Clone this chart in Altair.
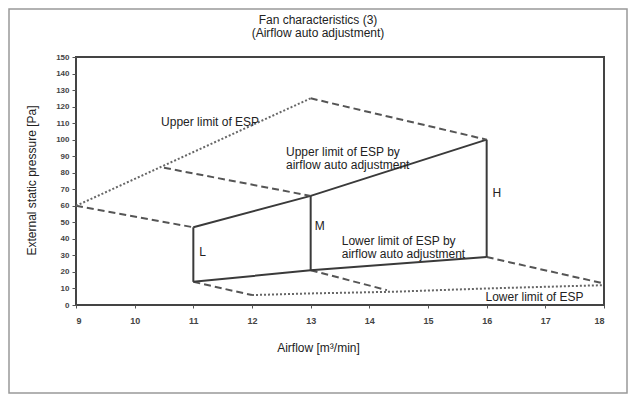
import altair as alt
import pandas as pd

FONT = "Liberation Sans, Arial, sans-serif"

# Chart title lines
title_lines = ["Fan characteristics (3)", "(Airflow auto adjustment)"]

# Fan speeds and the auto-adjustment limits (solid lines)
speed = ["L", "M", "H"]
speed_airflow = [11, 13, 16]
auto_upper = [47, 66, 100]
auto_lower = [14, 21, 29]

# Upper / lower limit of ESP (dotted)
upper_esp_x = [9, 13]
upper_esp_y = [60, 125]
lower_esp_x = [12, 13, 14.4, 16, 18]
lower_esp_y = [6, 7, 8, 10, 12]

# Dashed connectors
dash_x0 = [9, 10.5, 13, 11, 13, 16]
dash_y0 = [60, 83, 125, 14, 21, 29]
dash_x1 = [11, 13, 16, 12, 14.3, 18]
dash_y1 = [47, 66, 100, 6, 9, 13]

# Annotations
labels = ["Upper limit of ESP", "Upper limit of ESP by\nairflow auto adjustment",
          "Lower limit of ESP by\nairflow auto adjustment", "Lower limit of ESP",
          "L", "M", "H"]
label_x = [10.45, 12.58, 13.53, 15.98, 11.1, 13.07, 16.1]
label_y = [110.8, 92.8, 39, 4.8, 32, 48, 68]

x_ticks = list(range(9, 19))
y_ticks = list(range(0, 151, 10))

xs = alt.Scale(domain=[9, 18], nice=False)
ys = alt.Scale(domain=[0, 150], nice=False)

X_AXIS = alt.Axis(values=x_ticks, format="d", title="Airflow [m³/min]", grid=False, domain=False,
                  tickSize=3, tickColor="#555", labelFontSize=9, labelFontWeight="bold",
                  labelColor="#444", labelPadding=8, labelOverlap=False,
                  titleFontSize=12, titleFontWeight="normal",
                  titleFont=FONT, titleColor="#222", titleX=242, titleY=42, titleBaseline="middle",
                  titleAnchor="start", titleAlign="center")
Y_AXIS = alt.Axis(values=y_ticks, format="d", title="External static pressure [Pa]", grid=False,
                  domain=False, tickSize=4, tickColor="#555", labelFontSize=8,
                  labelFontWeight="bold", labelColor="#444", labelPadding=3, labelOverlap=False,
                  titleFontSize=12, titleFontWeight="normal",
                  titleFont=FONT, titleColor="#222", titleX=-45, titleY=123, titleAngle=-90,
                  titleBaseline="middle", titleAlign="center", titleAnchor="start")


def X(field):
    return alt.X(field, scale=xs, axis=X_AXIS)


def Y(field):
    return alt.Y(field, scale=ys, axis=Y_AXIS)


speed_df = pd.DataFrame({"speed": speed, "airflow": speed_airflow,
                         "upper": auto_upper, "lower": auto_lower})
up_df = pd.DataFrame({"airflow": upper_esp_x, "esp": upper_esp_y})
lo_df = pd.DataFrame({"airflow": lower_esp_x, "esp": lower_esp_y})
dash_df = pd.DataFrame({"x0": dash_x0, "y0": dash_y0, "x1": dash_x1, "y1": dash_y1})
lab_df = pd.DataFrame({"label": labels, "x": label_x, "y": label_y})
title_df = pd.DataFrame({"t": ["\n".join(title_lines)]})

base_speed = alt.Chart(speed_df)

auto_up_line = base_speed.mark_line(color="#3a3a3a", strokeWidth=2).encode(
    x=X("airflow:Q"), y=Y("upper:Q"))
auto_lo_line = base_speed.mark_line(color="#3a3a3a", strokeWidth=2).encode(
    x=X("airflow:Q"), y=Y("lower:Q"))
verticals = base_speed.mark_rule(color="#3a3a3a", strokeWidth=2).encode(
    x=X("airflow:Q"), y=Y("upper:Q"), y2="lower:Q")

dotted_up = alt.Chart(up_df).mark_line(color="#666", strokeWidth=2, strokeDash=[2, 2]).encode(
    x=X("airflow:Q"), y=Y("esp:Q"))
dotted_lo = alt.Chart(lo_df).mark_line(color="#666", strokeWidth=2, strokeDash=[2, 2]).encode(
    x=X("airflow:Q"), y=Y("esp:Q"))

dashed = alt.Chart(dash_df).mark_rule(color="#555", strokeWidth=2, strokeDash=[7, 4]).encode(
    x=X("x0:Q"), y=Y("y0:Q"), x2="x1:Q", y2="y1:Q")

texts = alt.Chart(lab_df).mark_text(align="left", baseline="middle", font=FONT, fontSize=12,
                                    color="#222", lineBreak="\n", lineHeight=13).encode(
    x=X("x:Q"), y=Y("y:Q"), text="label:N")

title = alt.Chart(title_df).mark_text(align="center", baseline="middle", font=FONT, fontSize=12,
                                      color="#222", lineBreak="\n", lineHeight=13,
                                      clip=False).encode(
    x=alt.value(242), y=alt.value(-37), text="t:N")

frame = alt.Chart(pd.DataFrame({"a": [0]})).mark_rect(
    fill=None, stroke="#999", strokeWidth=1.5, clip=False).encode(
    x=alt.value(-67), x2=alt.value(551), y=alt.value(-48), y2=alt.value(336))

chart = alt.layer(auto_up_line, frame, dashed, dotted_up, dotted_lo, auto_lo_line, verticals,
                  texts, title).properties(
    width=528, height=248,
    autosize=alt.AutoSizeParams(type="none"),
    padding={"left": 68, "top": 49, "right": 24, "bottom": 90},
).configure_view(stroke="#444", strokeWidth=2)

chart.save("out.html", embed_options={"renderer": "svg", "actions": False})
